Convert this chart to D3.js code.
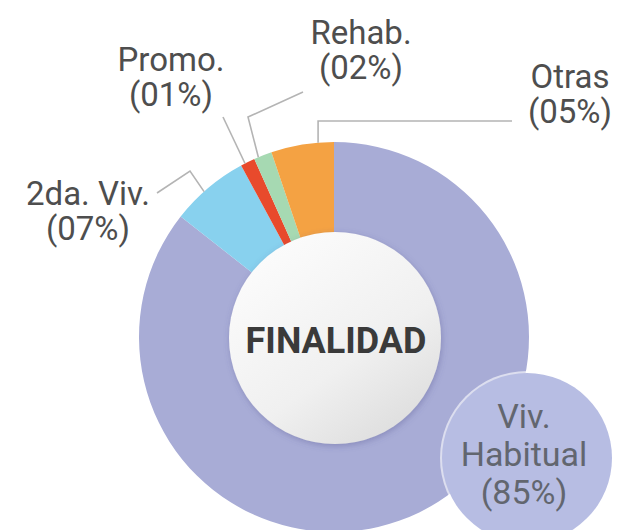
<!DOCTYPE html>
<html>
<head>
<meta charset="utf-8">
<script src="https://cdn.jsdelivr.net/npm/d3@7"></script>
<style>
  html, body { margin: 0; padding: 0; background: #ffffff; }
  svg { display: block; }
</style>
</head>
<body>
<svg id="chart" width="634" height="530"></svg>
<script>
// ---- data ----
const categories = ["Viv. Habitual", "2da. Viv.", "Promo.", "Rehab.", "Otras"];
const values = [85.6, 6.5, 1.2, 1.5, 5.2];
const pctLabels = ["(85%)", "(07%)", "(01%)", "(02%)", "(05%)"];
const labelLines = [["Viv.", "Habitual", "(85%)"], ["2da. Viv.", "(07%)"], ["Promo.", "(01%)"], ["Rehab.", "(02%)"], ["Otras", "(05%)"]];
const colors = ["#a8acd6", "#88d1ee", "#e84a2c", "#a6d9b2", "#f4a243"];
const centerTitle = "FINALIDAD";

// ---- layout ----
const W = 634, H = 530;
const cx = 334, cy = 337;
const outerR = 195, innerR = 95, holeR = 106;

const svg = d3.select("#chart");
const defs = svg.append("defs");

const grad = defs.append("linearGradient").attr("id", "holeGrad")
  .attr("x1", "20%").attr("y1", "10%").attr("x2", "80%").attr("y2", "95%");
grad.append("stop").attr("offset", "0%").attr("stop-color", "#fbfbfb");
grad.append("stop").attr("offset", "60%").attr("stop-color", "#f0f0f0");
grad.append("stop").attr("offset", "100%").attr("stop-color", "#dedede");

const sh = defs.append("filter").attr("id", "shadow").attr("x", "-20%").attr("y", "-20%").attr("width", "140%").attr("height", "140%");
sh.append("feDropShadow").attr("dx", 1).attr("dy", 2).attr("stdDeviation", 3)
  .attr("flood-color", "#50508a").attr("flood-opacity", 0.35);

const pie = d3.pie().sort(null).value(d => d)(values);
const arc = d3.arc().innerRadius(innerR).outerRadius(outerR);

const g = svg.append("g").attr("transform", `translate(${cx},${cy})`);
g.selectAll("path.slice").data(pie).join("path")
  .attr("class", "slice")
  .attr("d", arc)
  .attr("fill", (d, i) => colors[i]);

// point on outer edge at a fraction of a slice's span
function edgePoint(i, frac, r) {
  const d = pie[i];
  const a = d.startAngle + frac * (d.endAngle - d.startAngle);
  return [cx + r * Math.sin(a), cy - r * Math.cos(a)];
}

// leader lines (label-side points are layout; the slice end comes from the arc)
const leaders = [
  { i: 1, frac: 0.43, pts: [[157, 193], [190, 171]] },
  { i: 2, frac: 0.30, pts: [[223, 117]] },
  { i: 3, frac: 0.24, pts: [[303, 92], [248, 117]] },
  { i: 4, frac: 0.75, pts: [[512, 121], null] }
];
leaders.forEach(L => {
  const end = edgePoint(L.i, L.frac, outerR);
  const pts = L.pts.map(p => p === null ? [end[0], 121] : p);
  pts.push(end);
  svg.append("path")
    .attr("d", d3.line()(pts))
    .attr("fill", "none")
    .attr("stroke", "#b4b4b4")
    .attr("stroke-width", 1.6);
});

// center hole
svg.append("circle").attr("cx", cx + 1).attr("cy", cy + 1).attr("r", holeR)
  .attr("fill", "url(#holeGrad)").attr("filter", "url(#shadow)");
svg.append("text").attr("x", cx + 2).attr("y", cy + 16)
  .attr("text-anchor", "middle")
  .attr("font-family", "Roboto, Arial, sans-serif")
  .attr("font-weight", 700).attr("font-size", 36)
  .attr("fill", "#3a3a3a")
  .text(centerTitle);

// outer labels
const font = "Roboto, 'DejaVu Sans', sans-serif";
const labelPos = [null, [88, 205], [171, 71], [361, 44], [570, 88]];
const lineGap = 35;
labelPos.forEach((p, i) => {
  if (!p) return;
  const t = svg.append("text").attr("text-anchor", "middle")
    .attr("font-family", font).attr("font-size", 33).attr("fill", "#4e4e4e");
  labelLines[i].forEach((s, k) => {
    t.append("tspan").attr("x", p[0]).attr("y", p[1] + k * lineGap).text(s);
  });
});

// Viv. Habitual bubble
const bx = 527, by = 458, br = 85;
svg.append("circle").attr("cx", bx).attr("cy", by).attr("r", br + 2)
  .attr("fill", "#ffffff").attr("opacity", 0.6);
svg.append("circle").attr("cx", bx).attr("cy", by).attr("r", br)
  .attr("fill", "#b7bde3");
const bt = svg.append("text").attr("text-anchor", "middle")
  .attr("font-family", font).attr("font-size", 34).attr("fill", "#62666f");
labelLines[0].forEach((s, k) => {
  bt.append("tspan").attr("x", 524).attr("y", 428 + k * 38).text(s);
});
</script>
</body>
</html>
